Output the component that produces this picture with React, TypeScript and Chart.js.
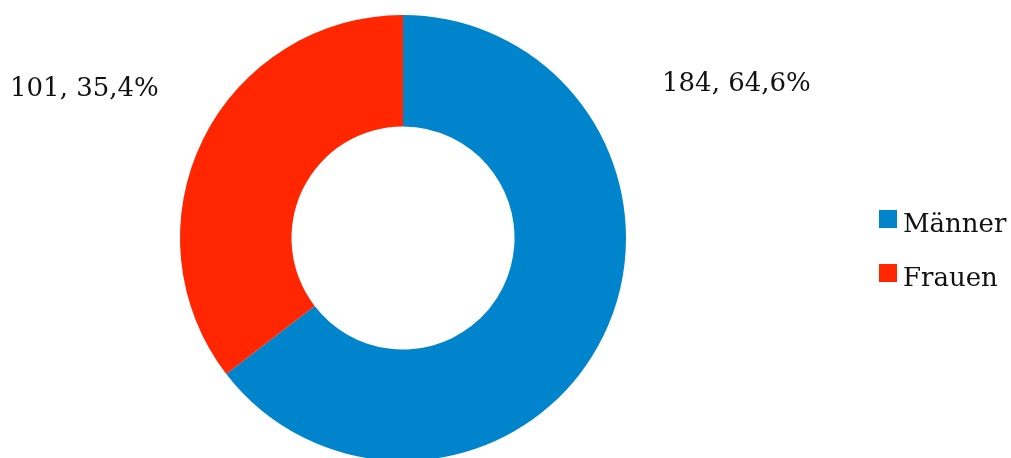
import React, { useEffect, useRef } from "react";
import { Chart, registerables } from "chart.js";

Chart.register(...registerables);

const categories = ["Männer", "Frauen"];
const counts = [184, 101];
const percents = ["64,6%", "35,4%"];
const colors = ["#0084CC", "#FF2600"];

const FONT = "'DejaVu Serif', serif";

const labelPlugin = {
  id: "extLabels",
  afterDraw(chart: any) {
    const ctx = chart.ctx;
    const meta = chart.getDatasetMeta(0);
    ctx.save();
    ctx.font = `26px ${FONT}`;
    ctx.fillStyle = "#111";
    ctx.textBaseline = "alphabetic";
    meta.data.forEach((arc: any, i: number) => {
      const text = `${counts[i]}, ${percents[i]}`;
      ctx.textAlign = "left";
      if (i === 0) {
        ctx.fillText(text, arc.x + 259, 91);
      } else {
        ctx.fillText(text, 10, 96);
      }
    });
    // legend
    const lx = 879;
    const rows = [219, 273];
    ctx.font = `26px ${FONT}`;
    categories.forEach((c, i) => {
      ctx.fillStyle = colors[i];
      ctx.fillRect(lx, rows[i] - 9, 18, 18);
      ctx.fillStyle = "#111";
      ctx.textAlign = "left";
      ctx.textBaseline = "alphabetic";
      ctx.fillText(c, lx + 24, rows[i] + 13);
    });
    ctx.restore();
  },
};

export default function App() {
  const ref = useRef<HTMLCanvasElement>(null);
  useEffect(() => {
    document.body.style.margin = "0";
    const chart = new Chart(ref.current!, {
      type: "doughnut",
      data: {
        labels: categories,
        datasets: [
          {
            data: counts,
            backgroundColor: colors,
            borderWidth: 0,
          },
        ],
      },
      options: {
        animation: false,
        responsive: false,
        cutout: "50%",
        layout: { padding: { left: 180, right: 385, top: 15, bottom: 15 } },
        plugins: { legend: { display: false }, tooltip: { enabled: false } },
      },
      plugins: [labelPlugin],
    });
    return () => chart.destroy();
  }, []);
  return (
    <div style={{ width: 1011, height: 458, overflow: "hidden", position: "relative", background: "#fff" }}>
      <canvas ref={ref} width={1011} height={476} style={{ display: "block" }} />
    </div>
  );
}
